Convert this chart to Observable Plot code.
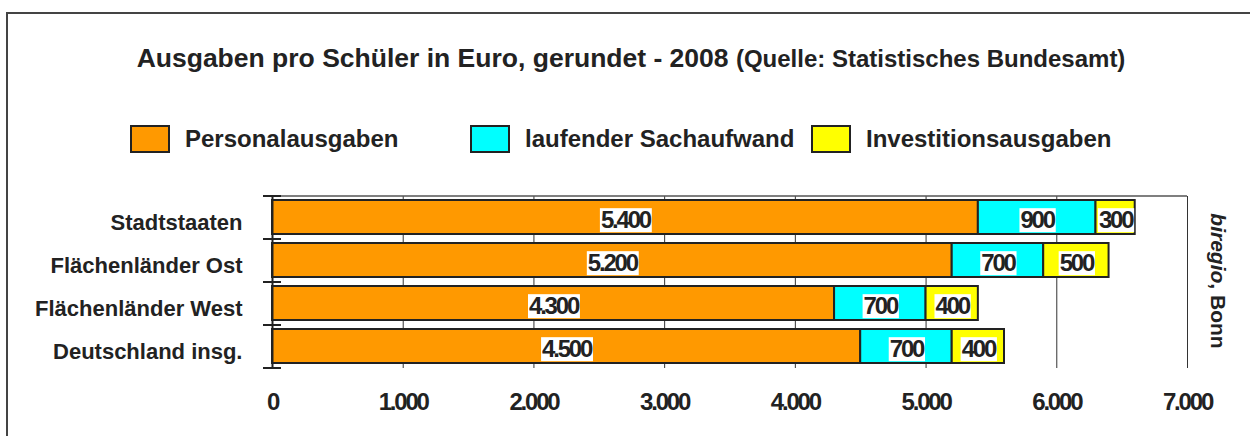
<!DOCTYPE html>
<html>
<head>
<meta charset="utf-8">
<script src="https://cdn.jsdelivr.net/npm/d3@7"></script>
<script src="https://cdn.jsdelivr.net/npm/@observablehq/plot@0.6"></script>
<style>
  html, body { margin: 0; padding: 0; background: #fff; }
  body { width: 1250px; height: 436px; overflow: hidden; position: relative;
         font-family: "Liberation Sans", Arial, sans-serif; color: #222; }
  #frame { position: absolute; left: 6px; top: 12px; width: 1270px; height: 460px;
           border: 2px solid #444; box-sizing: border-box; pointer-events: none; }
  #title { position: absolute; left: 0; width: 1262px; top: 43px; text-align: center;
           font-weight: bold; font-size: 26.5px; white-space: nowrap; }
  #title span { font-size: 24px; }
  .leg { position: absolute; top: 125px; height: 28px; display: flex; align-items: center;
         font-weight: bold; font-size: 24px; white-space: nowrap; }
  .leg i { display: inline-block; width: 36px; height: 24px; border: 2px solid #222; margin-right: 15px; }
  #credit { position: absolute; left: 1218px; top: 281px; transform: translate(-50%, -50%) rotate(90deg);
            font-weight: bold; font-size: 21px; white-space: nowrap; }
  #chart { position: absolute; left: 0; top: 170px; }
  #chart svg { background: transparent !important; }
</style>
</head>
<body>
<div id="title"></div>
<div id="legend"></div>
<div id="credit"><em>biregio</em>, Bonn</div>
<div id="chart"></div>
<div id="frame"></div>
<script>
const titleMain = "Ausgaben pro Schüler in Euro, gerundet - 2008";
const titleSource = "(Quelle: Statistisches Bundesamt)";
const categories = ["Stadtstaaten", "Flächenländer Ost", "Flächenländer West", "Deutschland insg."];
const seriesNames = ["Personalausgaben", "laufender Sachaufwand", "Investitionsausgaben"];
const seriesColors = ["#FF9900", "#00FFFF", "#FFFF00"];
const personal = [5400, 5200, 4300, 4500];
const sachaufwand = [900, 700, 700, 700];
const investition = [300, 500, 400, 400];
const xTicks = [0, 1000, 2000, 3000, 4000, 5000, 6000, 7000];

document.getElementById("title").innerHTML = titleMain + ' <span>' + titleSource + '</span>';
const legendLeft = [130, 470, 811];
document.getElementById("legend").innerHTML = seriesNames.map((s, i) =>
  `<div class="leg" style="left:${legendLeft[i]}px"><i style="background:${seriesColors[i]}"></i>${s}</div>`).join("");

const seriesValues = [personal, sachaufwand, investition];
const data = [];
seriesNames.forEach((s, si) => categories.forEach((c, ci) => data.push({cat: c, series: s, value: seriesValues[si][ci]})));

const fmt = d => d3.format(",")(d).replace(/,/g, ".");

const W = 1250, H = 266, mT = 26, mB = 68, mL = 272, mR = 63;
const step = (H - mT - mB) / categories.length;
const boundaries = categories.map(c => ({cat: c, off: -step / 2})).concat([{cat: categories[categories.length - 1], off: step / 2}]);

const chart = Plot.plot({
  width: W, height: H,
  marginTop: mT, marginBottom: mB, marginLeft: mL, marginRight: mR,
  style: {fontFamily: '"Liberation Sans", Arial, sans-serif', color: "#222", background: "transparent", overflow: "visible"},
  x: {domain: [0, 7000]},
  y: {domain: categories, paddingInner: 0.2, paddingOuter: 0.1},
  color: {domain: seriesNames, range: seriesColors},
  marks: [
    Plot.ruleX(xTicks.filter(d => d > 0), {stroke: "#333", strokeWidth: 1}),
    Plot.ruleY([categories[0]], {dy: -step / 2, stroke: "#555", strokeWidth: 1.5}),
    Plot.barX(data, Plot.stackX({x: "value", y: "cat", fill: "series", z: "series", stroke: "#222", strokeWidth: 2})),
    Plot.text(data, Plot.stackX({x: "value", y: "cat", z: "series", text: d => fmt(d.value),
      fill: "#222", fontSize: 24, fontWeight: "bold", dy: 3, className: "vlabel"})),
    Plot.ruleX([0], {stroke: "#222", strokeWidth: 2}),
    ...boundaries.map(b => Plot.ruleY([b.cat], {dy: b.off, x1: 0, x2: 0, insetLeft: -9, insetRight: -9, stroke: "#222", strokeWidth: 2})),
    Plot.axisY({tickSize: 0, tickPadding: 30, fontSize: 22, fontWeight: "bold", dy: 5, label: null}),
    Plot.axisX({ticks: xTicks, tickSize: 0, tickPadding: 24, fontSize: 24, fontWeight: "bold", tickFormat: fmt, label: null, className: "xax"})
  ]
});
document.getElementById("chart").appendChild(chart);

// condense numeric text
chart.querySelectorAll(".vlabel text, .xax text").forEach(t => t.setAttribute("letter-spacing", "-2.2"));

// white boxes behind value labels
chart.querySelectorAll(".vlabel text").forEach(t => {
  const b = t.getBBox();
  const r = document.createElementNS("http://www.w3.org/2000/svg", "rect");
  r.setAttribute("x", b.x - 1);
  r.setAttribute("y", b.y + 2);
  r.setAttribute("width", b.width + 1);
  r.setAttribute("height", b.height - 3);
  r.setAttribute("fill", "#fff");
  r.setAttribute("stroke", "none");
  const tr = t.getAttribute("transform");
  if (tr) r.setAttribute("transform", tr);
  t.parentNode.insertBefore(r, t);
});
</script>
</body>
</html>
